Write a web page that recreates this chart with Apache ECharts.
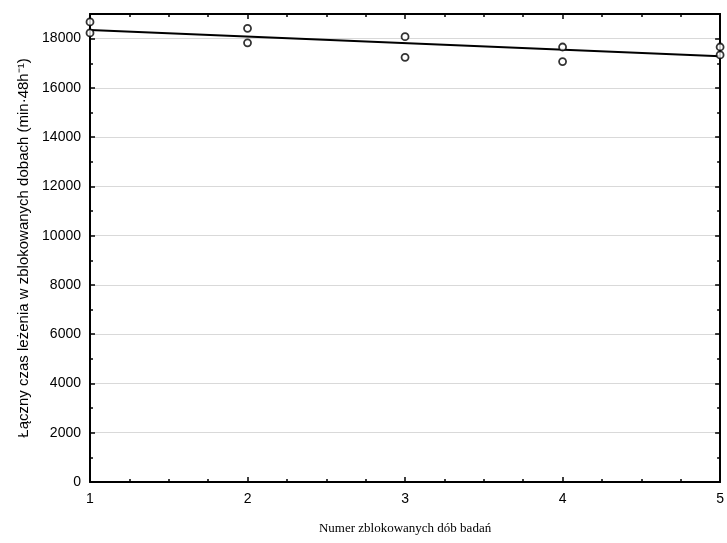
<!DOCTYPE html>
<html><head><meta charset="utf-8">
<script src="https://cdn.jsdelivr.net/npm/echarts@6/dist/echarts.min.js"></script>
<style>html,body{margin:0;padding:0;background:#fff}#c{width:727px;height:543px}</style>
</head><body><div id="c"></div>
<script>
var dayNumbers = [1, 1, 2, 2, 3, 3, 4, 4, 5, 5];
var lyingTime = [18680, 18230, 18420, 17830, 18080, 17240, 17660, 17070, 17660, 17340];
var yTicks = [0, 2000, 4000, 6000, 8000, 10000, 12000, 14000, 16000, 18000];
var xTicks = [1, 2, 3, 4, 5];

// least-squares fit through the points
var n = dayNumbers.length, sx = 0, sy = 0, sxx = 0, sxy = 0;
for (var i = 0; i < n; i++) { sx += dayNumbers[i]; sy += lyingTime[i]; sxx += dayNumbers[i]*dayNumbers[i]; sxy += dayNumbers[i]*lyingTime[i]; }
var slope = (n*sxy - sx*sy) / (n*sxx - sx*sx);
var icpt = (sy - slope*sx) / n;
var fitLine = [[xTicks[0], icpt + slope*xTicks[0]], [xTicks[xTicks.length-1], icpt + slope*xTicks[xTicks.length-1]]];

var chart = echarts.init(document.getElementById('c'), null, {renderer: 'canvas'});
var axLine = {show: true, onZero: false, lineStyle: {color: '#000', width: 2}};
var tick = {show: true, inside: true, length: 5, lineStyle: {color: '#000', width: 1.5}};
chart.setOption({
  animation: false,
  backgroundColor: '#fff',
  grid: {left: 90, right: 6, top: 14, bottom: 61, containLabel: false},
  xAxis: [{
    type: 'value', min: 1, max: 5, interval: 1, position: 'bottom',
    axisLine: axLine, axisTick: tick,
    minorTick: {show: true, splitNumber: 4, length: 3, lineStyle: {color: '#000', width: 1.5}},
    splitLine: {show: false},
    axisLabel: {color: '#000', fontFamily: 'Liberation Sans', fontSize: 14, margin: 10},
    name: 'Numer zblokowanych dób badań', nameLocation: 'middle', nameGap: 40,
    nameTextStyle: {color: '#000', fontFamily: 'Liberation Serif', fontSize: 13}
  }, {
    type: 'value', min: 1, max: 5, interval: 1, position: 'top',
    axisLine: axLine, axisTick: tick,
    minorTick: {show: true, splitNumber: 4, length: 3, lineStyle: {color: '#000', width: 1.5}},
    splitLine: {show: false}, axisLabel: {show: false}
  }],
  yAxis: [{
    type: 'value', min: 0, max: 19000, interval: 2000, position: 'left',
    axisLine: axLine, axisTick: tick,
    minorTick: {show: true, splitNumber: 2, length: 3, lineStyle: {color: '#000', width: 1.5}},
    splitLine: {show: true, lineStyle: {color: '#d9d9d9', width: 1}},
    axisLabel: {color: '#000', fontFamily: 'Liberation Sans', fontSize: 14, margin: 9,
      formatter: function (v) { return yTicks.indexOf(v) >= 0 ? String(v) : ''; }},
    name: 'Łączny czas leżenia w zblokowanych dobach (min·48h⁻¹)', nameLocation: 'middle', nameGap: 57,
    nameTextStyle: {color: '#000', fontFamily: 'Liberation Sans', fontSize: 15}
  }, {
    type: 'value', min: 0, max: 19000, interval: 2000, position: 'right',
    axisLine: axLine, axisTick: tick,
    minorTick: {show: true, splitNumber: 2, length: 3, lineStyle: {color: '#000', width: 1.5}},
    splitLine: {show: false}, axisLabel: {show: false}
  }],
  series: [{
    type: 'line', data: fitLine, xAxisIndex: 0, yAxisIndex: 0,
    showSymbol: false, symbol: 'none', lineStyle: {color: '#000', width: 2}, z: 3
  }, {
    type: 'scatter', xAxisIndex: 0, yAxisIndex: 0, clip: false,
    data: dayNumbers.map(function (x, i) { return [x, lyingTime[i]]; }),
    symbol: 'circle', symbolSize: 7,
    itemStyle: {color: '#fff', borderColor: '#000', borderWidth: 1.8}, z: 4
  }]
});
</script></body></html>
